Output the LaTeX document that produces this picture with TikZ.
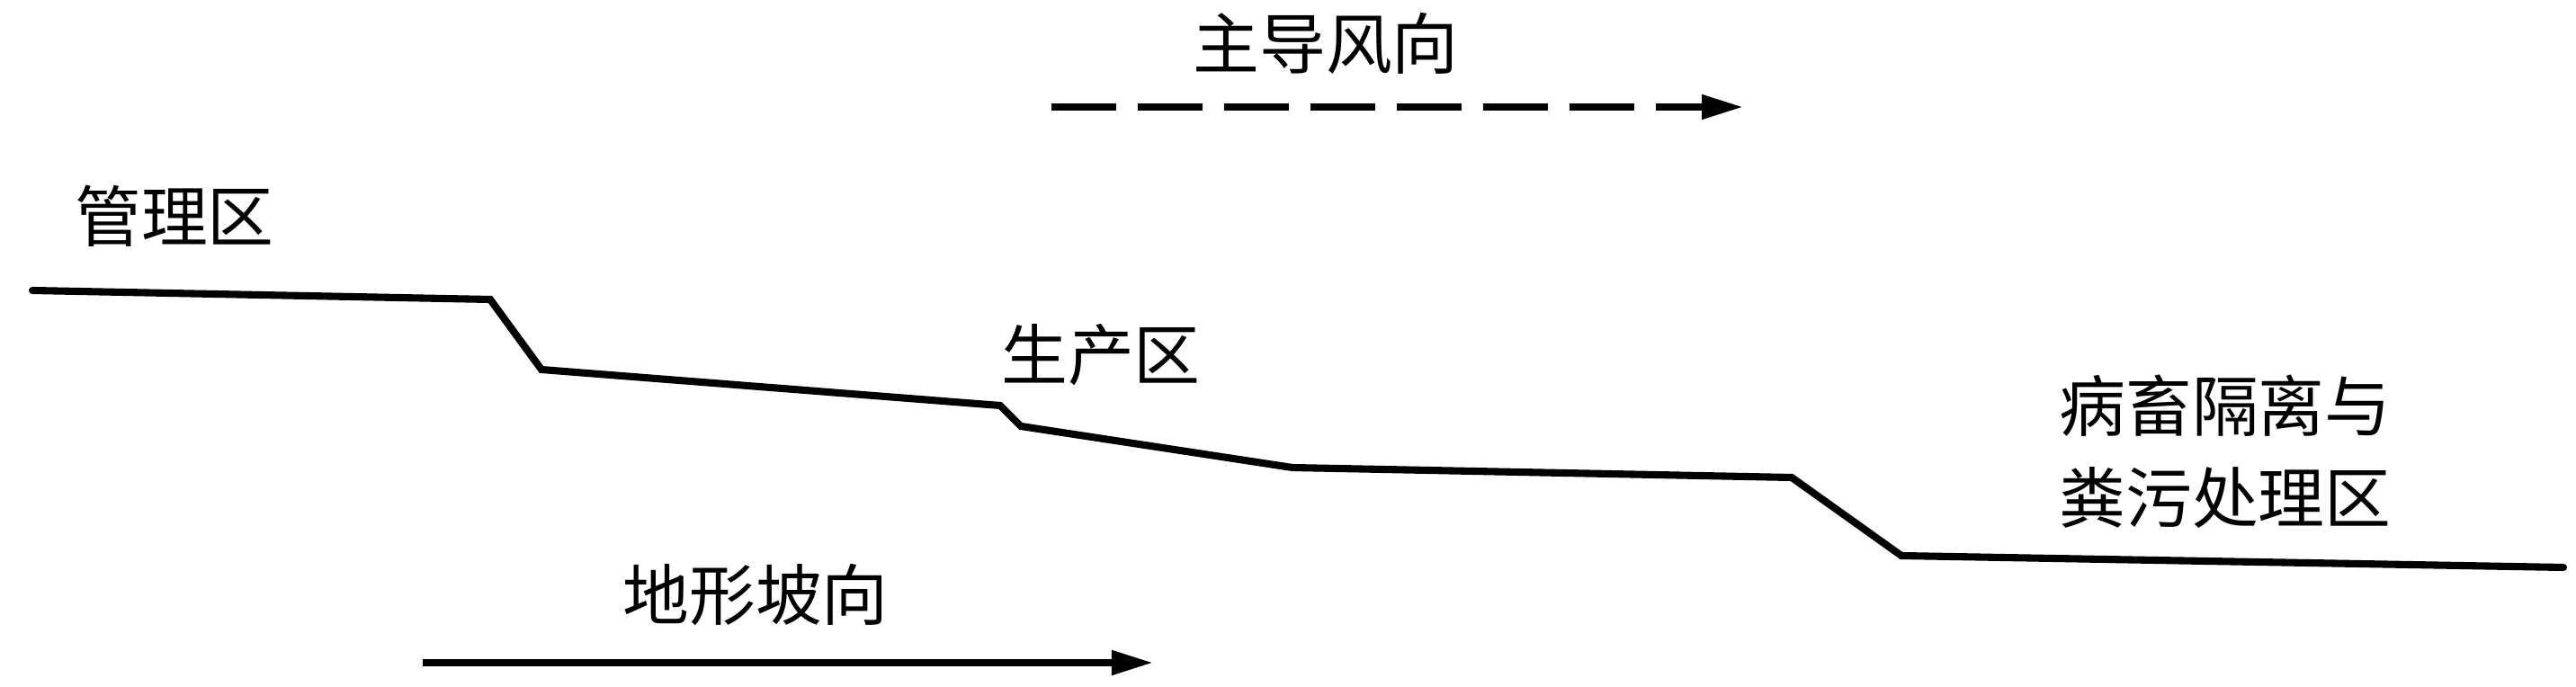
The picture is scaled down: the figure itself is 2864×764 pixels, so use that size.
\documentclass[tikz,border=0pt]{standalone}
\usepackage{fontspec}
\newfontfamily\cjk{Noto Sans CJK SC}
\usetikzlibrary{arrows.meta}
\begin{document}
\begin{tikzpicture}[x=0.01cm,y=-0.01cm,
  lbl/.style={font=\cjk\fontsize{21pt}{29pt}\selectfont, inner sep=0pt, align=center},
  ground/.style={line width=2.3pt, line cap=round, line join=miter},
  dir/.style={line width=2.2pt, -{Triangle[length=0.46cm,width=0.26cm]}},
  wind/.style={dir, dash pattern=on 0.72cm off 0.24cm}]
\useasboundingbox (0,0) rectangle (2864,764);
% terrain profile
\coordinate (p0) at (36,323);
\coordinate (p1) at (545,333);
\coordinate (p2) at (602,411);
\coordinate (p3) at (1112,451);
\coordinate (p4) at (1135,474);
\coordinate (p5) at (1437,520);
\coordinate (p6) at (1992,531);
\coordinate (p7) at (2114,618);
\coordinate (p8) at (2850,631);
\draw[ground] (p0) -- (p1) -- (p2) -- (p3) -- (p4) -- (p5) -- (p6) -- (p7) -- (p8);
% labels
\node[lbl] (mgmt) at (194,240) {管理区};
\node[lbl] (prod) at (1224,395) {生产区};
\node[lbl] (iso) at (2474,502) {病畜隔离与\\粪污处理区};
\node[lbl] (windlbl) at (1474,48) {主导风向};
\node[lbl] (slopelbl) at (840,662) {地形坡向};
% arrows
\coordinate (w0) at (1169,119);
\coordinate (w1) at (1938,119);
\draw[wind] (w0) -- (w1);
\coordinate (s0) at (470,737);
\coordinate (s1) at (1282,737);
\draw[dir] (s0) -- (s1);
\end{tikzpicture}
\end{document}
